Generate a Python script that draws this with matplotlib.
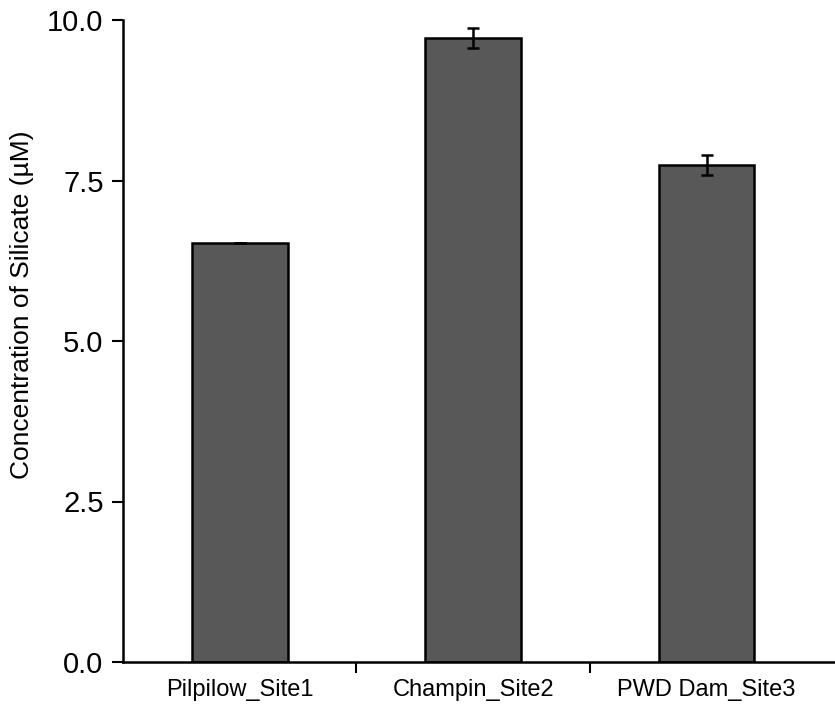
import matplotlib
matplotlib.use("Agg")
import matplotlib.pyplot as plt
import numpy as np

categories = ["Pilpilow_Site1", "Champin_Site2", "PWD Dam_Site3"]
values = [6.53, 9.72, 7.74]
errors = [0.0, 0.15, 0.15]
y_ticks = [0.0, 2.5, 5.0, 7.5, 10.0]
y_label = "Concentration of Silicate (µM)"

plt.rcParams['font.family'] = ['Liberation Sans', 'DejaVu Sans']

fig = plt.figure(figsize=(8.35, 7.12), dpi=100)
ax = fig.add_axes([123/835, 50/712, 1 - 123/835, 642/712])

x = np.arange(len(categories))
ax.bar(x, values, width=0.41, color="#585858", edgecolor="black", linewidth=1.8, zorder=2)
ax.errorbar(x, values, yerr=errors, fmt="none", ecolor="black", elinewidth=1.8,
            capsize=4.5, capthick=1.8, zorder=3)

ax.set_xlim(-0.5, 2.55)
ax.set_ylim(0, 10)
ax.set_yticks(y_ticks)
ax.set_yticklabels([f"{v:.1f}" for v in y_ticks], fontsize=21)
ax.set_xticks(x)
ax.set_xticklabels(categories, fontsize=17)
ax.set_xticks(np.arange(len(categories) - 1) + 0.5, minor=True)
ax.tick_params(axis='x', which='major', length=0, pad=12)
ax.tick_params(axis='x', which='minor', length=8, width=1.5, direction='out')
ax.tick_params(axis='y', length=8, width=1.5, direction='out', pad=6)

for s in ["top", "right"]:
    ax.spines[s].set_visible(False)
for s in ["left", "bottom"]:
    ax.spines[s].set_linewidth(1.8)

ax.set_ylabel(y_label, fontsize=19)
ax.yaxis.set_label_coords(-0.125, 0.556)

fig.savefig("out.png", dpi=100)
